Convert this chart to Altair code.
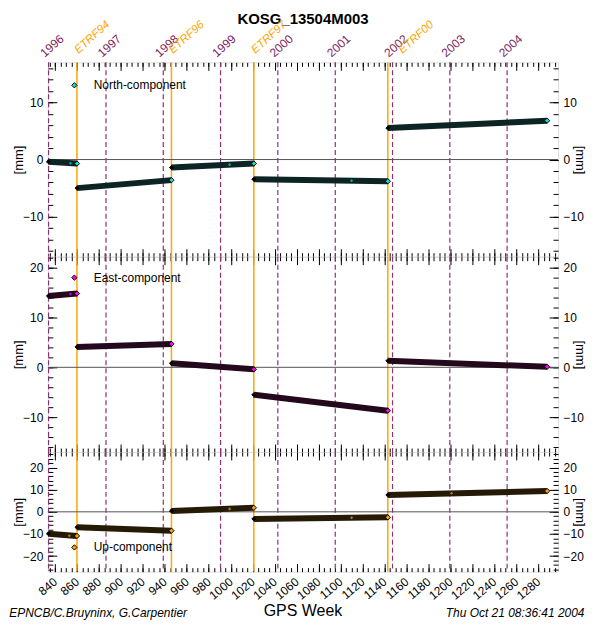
import altair as alt
import pandas as pd

FONT = "Liberation Sans"
PURPLE = "#7f1f5f"
PURPLE_LINE = "#8a3274"
ORANGE = "#ffa500"

chart_title = "KOSG_13504M003"
x_title = "GPS Week"
y_title = "[mm]"
footer_left = "EPNCB/C.Bruyninx, G.Carpentier"
footer_right = "Thu Oct 21 08:36:41 2004"

x_domain = [833.5, 1298.0]
x_major = list(range(840, 1281, 20))
x_minor = list(range(835, 1296, 5))

year_labels = ["1996", "1997", "1998", "1999", "2000", "2001", "2002", "2003", "2004"]
year_weeks = [834.14, 886.43, 938.57, 990.71, 1042.86, 1095.14, 1147.29, 1199.43, 1251.57]
etrf_labels = ["ETRF94", "ETRF96", "ETRF97", "ETRF00"]
etrf_weeks = [860, 946, 1021, 1143]
etrf_label_weeks = [860, 946, 1021, 1155]

seg_start_weeks = [834, 860, 946, 1021, 1143]
seg_end_weeks = [860, 946, 1021, 1143, 1288]

north_start = [-0.4, -5.0, -1.4, -3.45, 5.5]
north_end = [-0.7, -3.6, -0.7, -3.8, 6.8]
north_mid_weeks = [854, 999, 1110]
north_mid_values = [-0.65, -0.9, -3.7]

east_start = [14.3, 4.1, 0.8, -5.5, 1.3]
east_end = [14.8, 4.7, -0.4, -8.7, 0.1]
east_mid_weeks = [854]
east_mid_values = [14.7]

up_start = [-9.9, -7.0, 0.4, -3.2, 7.6]
up_end = [-10.9, -8.5, 1.8, -2.5, 9.4]
up_mid_weeks = [853, 999, 1110, 1201]
up_mid_values = [-10.8, 1.3, -2.7, 8.4]

PANEL_W = 512


def tick_axis(orient, values, size, labels=False, **kw):
    return alt.Axis(
        orient=orient, values=values, tickSize={"expr": str(-size)},
        tickColor="#000000", tickWidth=1, domain=False, grid=False,
        labels=labels, title=None, labelFlush=False, labelOverlap=False,
        **kw,
    )


def y_label_axis(orient, values, height):
    ax = tick_axis(
        orient, values, 9, labels=True, labelPadding=14, labelFont=FONT,
        labelFontSize=12, labelColor="#000000")
    ax["title"] = y_title
    ax["titleFont"] = FONT
    ax["titleFontSize"] = 13
    ax["titleFontWeight"] = "normal"
    ax["titleColor"] = "#000000"
    ax["titleBaseline"] = "middle"
    ax["titleAlign"] = "center"
    ax["titleY"] = height / 2
    if orient == "left":
        ax["titleAngle"] = 270
        ax["titleX"] = -29.2
    else:
        ax["titleAngle"] = 90
        ax["titleX"] = 21.7
    return ax


def make_panel(label, fill_color, band_color, starts, ends, mid_w, mid_v,
               y_domain, y_major, y_minor, height, legend_y,
               first=False, last=False):
    xs = alt.Scale(domain=x_domain, nice=False, zero=False)
    ys = alt.Scale(domain=y_domain, nice=False, zero=False)

    rows = []
    for i, (w0, w1, v0, v1) in enumerate(zip(seg_start_weeks, seg_end_weeks, starts, ends)):
        rows.append({"seg": i, "week": w0, "value": v0, "kind": "start"})
        rows.append({"seg": i, "week": w1, "value": v1, "kind": "end"})
    seg_df = pd.DataFrame(rows)
    mid_df = pd.DataFrame({"week": mid_w, "value": mid_v})
    years_df = pd.DataFrame({"week": year_weeks, "label": year_labels})
    etrf_df = pd.DataFrame({"week": etrf_weeks, "label": etrf_labels,
                            "label_week": etrf_label_weeks})
    zero_df = pd.DataFrame({"value": [0]})

    if last:
        bottom_major = tick_axis(
            "bottom", x_major, 8, labels=True, labelAngle=320, labelAlign="right",
            labelBaseline="middle", labelPadding=16, labelFont=FONT, format="d",
            labelFontSize=12, labelColor="#000000")
    else:
        bottom_major = tick_axis("bottom", x_major, 8)

    left_major = y_label_axis("left", y_major, height)
    right_major = y_label_axis("right", y_major, height)

    years_rule = alt.Chart(years_df).mark_rule(
        color=PURPLE_LINE, strokeDash=[5, 3], strokeWidth=1.2).encode(
        x=alt.X("week:Q", scale=xs, axis=None))
    etrf_rule = alt.Chart(etrf_df).mark_rule(
        color=ORANGE, strokeWidth=1.5).encode(
        x=alt.X("week:Q", scale=xs, axis=None))
    zero_rule = alt.Chart(zero_df).mark_rule(
        color="#555555", strokeWidth=1).encode(
        y=alt.Y("value:Q", scale=ys, axis=None))
    band = alt.Chart(seg_df).mark_line(
        color=band_color, strokeWidth=6, strokeCap="butt").encode(
        x=alt.X("week:Q", scale=xs, axis=bottom_major),
        y=alt.Y("value:Q", scale=ys, axis=left_major),
        detail="seg:N")
    end_pts = alt.Chart(seg_df).transform_filter(alt.datum.kind == "end").mark_point(
        shape="diamond", filled=True, fill=fill_color, stroke="#000000",
        strokeWidth=1, size=28, opacity=1).encode(
        x=alt.X("week:Q", scale=xs, axis=tick_axis("bottom", x_minor, 4)),
        y=alt.Y("value:Q", scale=ys, axis=tick_axis("left", y_minor, 5)))
    start_pts = alt.Chart(seg_df).transform_filter(alt.datum.kind == "start").mark_point(
        shape="diamond", filled=True, fill="#000000", stroke="#000000",
        strokeWidth=1, size=16, opacity=1).encode(
        x=alt.X("week:Q", scale=xs, axis=tick_axis("top", x_major, 8)),
        y=alt.Y("value:Q", scale=ys, axis=right_major))
    mid_pts = alt.Chart(mid_df).mark_point(
        shape="diamond", filled=True, color=fill_color, size=10, opacity=0.7).encode(
        x=alt.X("week:Q", scale=xs, axis=tick_axis("top", x_minor, 4)),
        y=alt.Y("value:Q", scale=ys, axis=tick_axis("right", y_minor, 5)))

    leg_df = pd.DataFrame({"label": [label]})
    leg_pt = alt.Chart(leg_df).mark_point(
        shape="diamond", filled=True, fill=fill_color, stroke="#000000",
        strokeWidth=1, size=28, opacity=1).encode(
        x=alt.value(26.6), y=alt.value(legend_y))
    leg_txt = alt.Chart(leg_df).mark_text(
        align="left", baseline="middle", font=FONT, fontSize=12, color="#000000").encode(
        x=alt.value(46), y=alt.value(legend_y), text="label:N")

    layers = [years_rule, etrf_rule, zero_rule, band, end_pts, start_pts, mid_pts, leg_pt, leg_txt]

    if first:
        title_df = pd.DataFrame({"t": [chart_title]})
        layers.append(alt.Chart(title_df).mark_text(
            align="center", baseline="alphabetic", font=FONT, fontSize=15,
            fontWeight="bold", color="#000000").encode(
            x=alt.value(PANEL_W / 2), y=alt.value(-38.5), text="t:N"))
        layers.append(alt.Chart(years_df).mark_text(
            align="left", baseline="alphabetic", angle=318, dx=-5, font=FONT,
            fontSize=12, color=PURPLE).encode(
            x=alt.X("week:Q", scale=xs, axis=None), y=alt.value(-8), text="label:N"))
        layers.append(alt.Chart(etrf_df).mark_text(
            align="left", baseline="alphabetic", angle=318, dx=2, font=FONT,
            fontSize=11.5, fontStyle="italic", color=ORANGE).encode(
            x=alt.X("label_week:Q", scale=xs, axis=None), y=alt.value(-7), text="label:N"))

    if last:
        txt_df = pd.DataFrame({"t": [x_title], "l": [footer_left], "r": [footer_right]})
        layers.append(alt.Chart(txt_df).mark_text(
            align="center", baseline="alphabetic", font=FONT, fontSize=16,
            color="#000000").encode(
            x=alt.value(PANEL_W / 2), y=alt.value(height + 45), text="t:N"))
        layers.append(alt.Chart(txt_df).mark_text(
            align="left", baseline="alphabetic", font=FONT, fontSize=12,
            fontStyle="italic", color="#000000").encode(
            x=alt.value(-38.7), y=alt.value(height + 46), text="l:N"))
        layers.append(alt.Chart(txt_df).mark_text(
            align="right", baseline="alphabetic", font=FONT, fontSize=12,
            fontStyle="italic", color="#000000").encode(
            x=alt.value(538.5), y=alt.value(height + 46), text="r:N"))

    return alt.layer(*layers).resolve_scale(x="shared", y="shared").resolve_axis(
        x="independent", y="independent").properties(width=PANEL_W, height=height)


north = make_panel("North-component", "#00e0e0", "#0c2424", north_start, north_end,
                   north_mid_weeks, north_mid_values, [-17, 17], [-10, 0, 10],
                   list(range(-16, 17, 2)), 195, 23, first=True)
east = make_panel("East-component", "#ff00ff", "#24081c", east_start, east_end,
                  east_mid_weeks, east_mid_values, [-17, 22.2], [-10, 0, 10, 20],
                  list(range(-16, 23, 2)), 196, 21)
up = make_panel("Up-component", "#ffa500", "#241a06", up_start, up_end,
                up_mid_weeks, up_mid_values, [-27, 27], [-20, -10, 0, 10, 20],
                list(range(-26, 27, 2)), 120, 95.7, last=True)

chart = alt.vconcat(north, east, up, spacing=0, bounds="flush").properties(
    padding={"left": 0, "top": 2.5, "right": 0, "bottom": 0}
).configure_view(stroke="#000000", strokeWidth=1.5, fill="#ffffff").configure(
    background="#ffffff")

chart.save("out.html", embed_options={"renderer": "svg", "actions": False})
